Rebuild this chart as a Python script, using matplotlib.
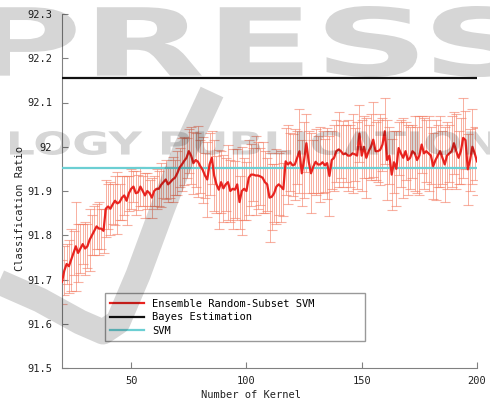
#!/usr/bin/env python3
# Classification ratio vs number of kernels

import numpy as np
import matplotlib
matplotlib.use("Agg")
import matplotlib.pyplot as plt
from matplotlib.ticker import FuncFormatter
from matplotlib.textpath import TextPath
from matplotlib.font_manager import FontProperties
from matplotlib.patches import PathPatch
from matplotlib.path import Path
from matplotlib.transforms import Affine2D, IdentityTransform

# --- data -------------------------------------------------------------
kernels = list(range(20, 201))

ensemble_mean = [
    91.695, 91.72, 91.735, 91.73, 91.745, 91.76, 91.775, 91.76, 91.77, 91.78,
    91.77, 91.775, 91.79, 91.80, 91.81, 91.82, 91.815, 91.815, 91.81, 91.86,
    91.865, 91.86, 91.87, 91.878, 91.872, 91.875, 91.885, 91.89, 91.878, 91.895,
    91.905, 91.91, 91.895, 91.897, 91.91, 91.90, 91.89, 91.90, 91.895, 91.885,
    91.90, 91.905, 91.905, 91.914, 91.92, 91.926, 91.915, 91.92, 91.926, 91.93,
    91.94, 91.953, 91.96, 91.968, 91.975, 91.99, 91.98, 91.963, 91.97, 91.966,
    91.956, 91.948, 91.935, 91.926, 91.96, 91.975, 91.935, 91.915, 91.903, 91.92,
    91.906, 91.915, 91.92, 91.90, 91.905, 91.903, 91.915, 91.875, 91.90, 91.905,
    91.90, 91.93, 91.937, 91.937, 91.935, 91.935, 91.933, 91.93, 91.92, 91.915,
    91.885, 91.887, 91.895, 91.91, 91.915, 91.91, 91.904, 91.967, 91.96, 91.965,
    91.958, 91.96, 91.975, 91.99, 91.94, 91.97, 92.008, 91.966, 91.94, 91.955,
    91.966, 91.96, 91.96, 91.965, 91.958, 91.963, 91.934, 91.97, 91.975, 91.99,
    91.994, 91.99, 91.983, 91.985, 91.98, 91.98, 91.985, 91.983, 91.98, 92.03,
    91.98, 92.0, 91.975, 91.99, 92.0, 92.016, 91.99, 91.99, 91.993, 92.005,
    92.035, 91.97, 91.98, 91.937, 91.965, 91.95, 91.997, 91.985, 91.975, 91.99,
    91.97, 91.975, 91.99, 91.985, 91.97, 91.98, 92.005, 91.985, 91.99, 91.985,
    91.98, 91.956, 91.97, 91.98, 91.99, 91.975, 91.96, 91.98, 91.985, 91.99,
    92.008, 91.99, 91.975, 91.99, 92.02, 92.015, 91.949, 91.97, 92.0, 91.985,
    91.967,
]

ensemble_err = [
    0.05, 0.055, 0.045, 0.06, 0.07, 0.05, 0.1, 0.065, 0.055, 0.045,
    0.06, 0.05, 0.07, 0.045, 0.055, 0.05, 0.06, 0.045, 0.05, 0.065,
    0.05, 0.06, 0.045, 0.055, 0.07, 0.04, 0.05, 0.045, 0.055, 0.04,
    0.045, 0.035, 0.05, 0.04, 0.045, 0.035, 0.05, 0.04, 0.03, 0.045,
    0.035, 0.045, 0.04, 0.05, 0.035, 0.045, 0.04, 0.035, 0.05, 0.04,
    0.05, 0.045, 0.06, 0.055, 0.045, 0.05, 0.065, 0.07, 0.06, 0.08,
    0.06, 0.075, 0.05, 0.085, 0.07, 0.06, 0.08, 0.065, 0.09, 0.07,
    0.075, 0.06, 0.085, 0.07, 0.09, 0.065, 0.08, 0.06, 0.1, 0.07,
    0.065, 0.085, 0.07, 0.06, 0.09, 0.075, 0.065, 0.08, 0.07, 0.06,
    0.1, 0.075, 0.065, 0.085, 0.07, 0.08, 0.06, 0.075, 0.09, 0.065,
    0.07, 0.08, 0.06, 0.095, 0.075, 0.085, 0.065, 0.07, 0.09, 0.06,
    0.075, 0.065, 0.085, 0.07, 0.06, 0.08, 0.09, 0.065, 0.075, 0.07,
    0.085, 0.06, 0.075, 0.065, 0.08, 0.07, 0.09, 0.06, 0.075, 0.065,
    0.08, 0.07, 0.09, 0.06, 0.075, 0.085, 0.065, 0.07, 0.08, 0.06,
    0.075, 0.09, 0.065, 0.08, 0.07, 0.085, 0.06, 0.075, 0.09, 0.065,
    0.08, 0.07, 0.06, 0.085, 0.075, 0.09, 0.065, 0.08, 0.07, 0.085,
    0.065, 0.075, 0.09, 0.07, 0.08, 0.06, 0.085, 0.075, 0.065, 0.08,
    0.07, 0.085, 0.06, 0.075, 0.09, 0.065, 0.08, 0.07, 0.085, 0.06,
    0.075,
]

bayes_ratio = 92.155
svm_ratio = 91.951

labels = ["Ensemble Random-Subset SVM", "Bayes Estimation", "SVM"]
y_ticks = [91.5, 91.6, 91.7, 91.8, 91.9, 92.0, 92.1, 92.2, 92.3]
x_ticks = [50, 100, 150, 200]

W, H = 490, 405


def stamp(fig, text, x0, x1, ytop, ybot):
    # watermark word stretched into a pixel box (y measured from top)
    tp = TextPath((0, 0), text, size=100,
                  prop=FontProperties(family="DejaVu Sans", weight="bold"))
    bb = tp.get_extents()
    tr = (Affine2D().translate(-bb.x0, -bb.y0)
          .scale((x1 - x0) / bb.width, (ybot - ytop) / bb.height)
          .translate(x0, H - ybot))
    fig.add_artist(PathPatch(tr.transform_path(tp), transform=IdentityTransform(),
                             facecolor="black", edgecolor="none", alpha=0.16,
                             zorder=10))


def main():
    plt.rcParams["font.family"] = ["DejaVu Sans Mono"]

    fig = plt.figure(figsize=(W / 100, H / 100), dpi=100)
    ax = fig.add_axes([62 / W, 1 - 368 / H, 415 / W, 354 / H])

    x = np.array(kernels)
    ax.errorbar(x, ensemble_mean, yerr=ensemble_err, fmt="none",
                ecolor="#f47c62", elinewidth=0.7, capsize=3.5, capthick=0.8,
                alpha=0.6, zorder=2)
    ax.plot(x, ensemble_mean, color="#e8231f", linewidth=1.6, label=labels[0], zorder=4)
    ax.axhline(bayes_ratio, color="#111111", linewidth=1.6, label=labels[1], zorder=3)
    ax.axhline(svm_ratio, color="#6ccfd3", linewidth=1.6, label=labels[2], zorder=3)

    ax.set_xlim(20, 200)
    ax.set_ylim(91.5, 92.3)
    ax.set_xticks(x_ticks)
    ax.set_yticks(y_ticks)
    ax.yaxis.set_major_formatter(FuncFormatter(lambda v, p: f"{v:g}"))

    for side in ("top", "right"):
        ax.spines[side].set_visible(False)
    for side in ("left", "bottom"):
        ax.spines[side].set_color("#808080")
    ax.tick_params(direction="in", length=4, color="#808080", labelsize=7.5,
                   labelcolor="#222222")
    ax.tick_params(axis="y", pad=7)
    ax.tick_params(axis="x", pad=6)

    ax.set_xlabel("Number of Kernel", fontsize=7.5, color="#222222")
    ax.set_ylabel("Classification Ratio", fontsize=7.5, color="#222222")
    ax.xaxis.set_label_coords(0.455, -0.063)
    ax.yaxis.set_label_coords(-0.09, 0.45)

    leg = ax.legend(loc="lower left", bbox_to_anchor=(0.104, 0.076, 0.627, 0.141),
                    mode="expand", fancybox=False, fontsize=7.5, handlelength=3.2,
                    borderaxespad=0, labelspacing=0.35, borderpad=0.5)
    leg.get_frame().set_edgecolor("#808080")
    leg.get_frame().set_linewidth(1.0)

    # publisher watermark
    stamp(fig, "PRESS", -20, 525, 6, 77)
    stamp(fig, "LOGY PUBLICATIONS", 10, 530, 131, 155)
    pts = [(-10, 278), (40, 300), (80, 322), (103, 332), (118, 322),
           (138, 275), (162, 210), (185, 150), (212, 92)]
    swoosh = Path([(px, H - py) for px, py in pts])
    fig.add_artist(PathPatch(swoosh, transform=IdentityTransform(), fill=False,
                             edgecolor="black", alpha=0.16, linewidth=18,
                             joinstyle="round", capstyle="butt", zorder=10))

    fig.savefig("out.png", dpi=100)
    plt.close(fig)


if __name__ == "__main__":
    main()
